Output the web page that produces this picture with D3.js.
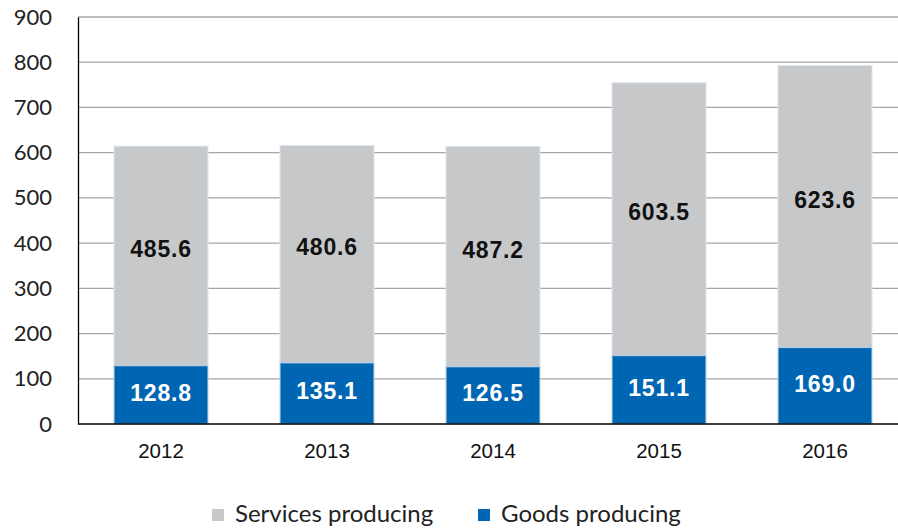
<!DOCTYPE html>
<html><head><meta charset="utf-8">
<script src="https://cdn.jsdelivr.net/npm/d3@7"></script>
<style>body{margin:0;background:#fff}svg{display:block}</style>
</head><body>
<svg id="c" width="898" height="529"></svg>
<script>
const years = ["2012","2013","2014","2015","2016"];
const goods = [128.8,135.1,126.5,151.1,169.0];
const services = [485.6,480.6,487.2,603.5,623.6];
const yTicks = [0,100,200,300,400,500,600,700,800,900];
const seriesNames = ["Services producing","Goods producing"];
const colors = {"Services producing":"#c7c8ca","Goods producing":"#0066b3"};

const svg = d3.select("#c");
const x = d3.scaleBand().domain(years).range([78,908]).paddingInner(0.434).paddingOuter(0.217);
const y = d3.scaleLinear().domain([0,900]).range([424,17]);

// gridlines
svg.append("g").selectAll("line").data(yTicks.filter(d=>d>0)).join("line")
  .attr("x1",78).attr("x2",898).attr("y1",d=>y(d)).attr("y2",d=>y(d))
  .attr("stroke","#a6a6a6").attr("stroke-width",1.3);

const data = years.map((yr,i)=>({yr,g:goods[i],s:services[i]}));
const gb = svg.append("g");
const lblFont = "Liberation Sans, Arial, sans-serif";
data.forEach(d=>{
  gb.append("rect").attr("x",x(d.yr)).attr("width",x.bandwidth())
    .attr("y",y(d.g+d.s)).attr("height",y(d.g)-y(d.g+d.s))
    .attr("fill",colors["Services producing"]).attr("stroke","#dbe5ef").attr("stroke-width",1);
  gb.append("rect").attr("x",x(d.yr)).attr("width",x.bandwidth())
    .attr("y",y(d.g)).attr("height",y(0)-y(d.g))
    .attr("fill",colors["Goods producing"]).attr("stroke","#b9cfe6").attr("stroke-width",1);
  gb.append("text").attr("x",x(d.yr)+x.bandwidth()/2).attr("y",(y(d.g)+y(d.g+d.s))/2-7)
    .attr("text-anchor","middle").attr("dominant-baseline","central")
    .attr("font-family",lblFont).attr("font-weight","bold").attr("letter-spacing",0.8)
    .attr("font-size",23).attr("fill","#111").text(d.s.toFixed(1));
  gb.append("text").attr("x",x(d.yr)+x.bandwidth()/2).attr("y",(y(d.g)+y(0))/2-2)
    .attr("text-anchor","middle").attr("dominant-baseline","central")
    .attr("font-family",lblFont).attr("font-weight","bold").attr("letter-spacing",0.8)
    .attr("font-size",23).attr("fill","#fff").text(d.g.toFixed(1));
});

// y axis
const ya = svg.append("g").attr("transform","translate(78,0)")
  .call(d3.axisLeft(y).tickValues(yTicks).tickSize(0).tickPadding(26));
ya.select(".domain").attr("stroke","#000").attr("stroke-width",1.3);
ya.selectAll("text").attr("font-family","Lato, sans-serif").attr("font-size",22).attr("fill","#222");

// x axis
const xa = svg.append("g").attr("transform","translate(0,424)")
  .call(d3.axisBottom(x).tickSize(0).tickPadding(19));
xa.select(".domain").attr("d","M78,0H898").attr("stroke","#000").attr("stroke-width",1.3);
xa.selectAll("text").attr("font-family","Liberation Sans, Arial, sans-serif").attr("font-size",20.5).attr("fill","#111");

// legend
const leg = svg.append("g");
const lx = [212,478];
seriesNames.forEach((n,i)=>{
  leg.append("rect").attr("x",lx[i]).attr("y",509).attr("width",12).attr("height",12).attr("fill",colors[n]);
  leg.append("text").attr("x",lx[i]+23).attr("y",522).attr("font-family","Lato, sans-serif")
    .attr("font-size",24).attr("fill","#222").text(n);
});
</script>
</body></html>
